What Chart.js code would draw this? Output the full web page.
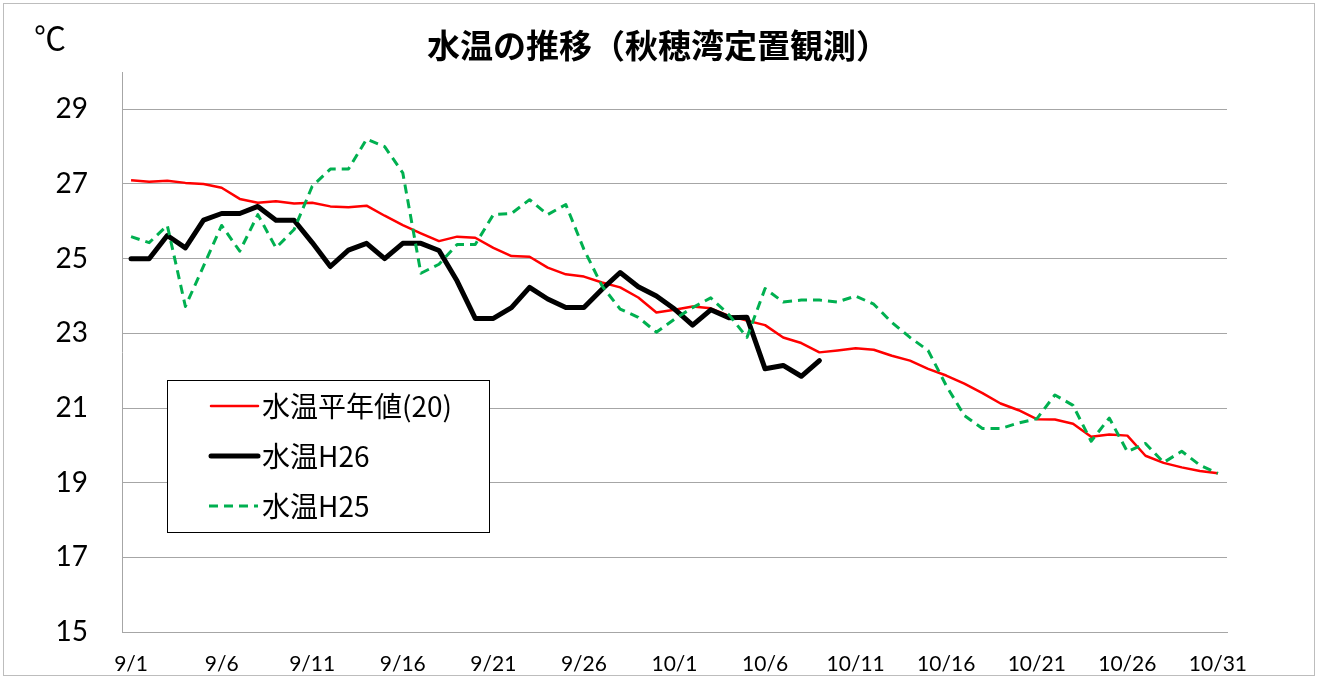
<!DOCTYPE html>
<html lang="ja">
<head>
<meta charset="utf-8">
<script src="https://cdn.jsdelivr.net/npm/chart.js@4.4.1/dist/chart.umd.min.js"></script>
<style>
html, body { margin: 0; padding: 0; background: #fff; }
#marco { position: relative; width: 1318px; height: 677px; }
</style>
</head>
<body>
<div id="marco"><canvas id="graficaSuion" width="1318" height="677"></canvas></div>
<script>
// 日付 (9/1 - 10/31)
const hizuke = [
  '9/1','9/2','9/3','9/4','9/5','9/6','9/7','9/8','9/9','9/10',
  '9/11','9/12','9/13','9/14','9/15','9/16','9/17','9/18','9/19','9/20',
  '9/21','9/22','9/23','9/24','9/25','9/26','9/27','9/28','9/29','9/30',
  '10/1','10/2','10/3','10/4','10/5','10/6','10/7','10/8','10/9','10/10',
  '10/11','10/12','10/13','10/14','10/15','10/16','10/17','10/18','10/19','10/20',
  '10/21','10/22','10/23','10/24','10/25','10/26','10/27','10/28','10/29','10/30',
  '10/31'
];

// 水温平年値(20)
const suionHeinen = [
  27.10, 27.06, 27.09, 27.03, 27.00, 26.90, 26.60, 26.50, 26.54, 26.48,
  26.50, 26.40, 26.38, 26.42, 26.15, 25.90, 25.68, 25.47, 25.59, 25.56,
  25.29, 25.07, 25.05, 24.76, 24.58, 24.52, 24.36, 24.23, 23.96, 23.56,
  23.63, 23.72, 23.67, 23.47, 23.34, 23.22, 22.89, 22.74, 22.49, 22.54,
  22.60, 22.56, 22.40, 22.27, 22.05, 21.87, 21.65, 21.40, 21.12, 20.94,
  20.70, 20.69, 20.58, 20.23, 20.29, 20.26, 19.72, 19.53, 19.41, 19.31,
  19.25
];

// 水温H26 (10/9まで)
const suionH26 = [
  25.00, 25.00, 25.62, 25.29, 26.03, 26.21, 26.21, 26.40, 26.03, 26.03,
  25.43, 24.79, 25.23, 25.41, 25.00, 25.41, 25.41, 25.22, 24.40, 23.40,
  23.40, 23.69, 24.23, 23.92, 23.69, 23.69, 24.18, 24.63, 24.25, 24.00,
  23.65, 23.22, 23.63, 23.42, 23.43, 22.05, 22.14, 21.85, 22.27, null,
  null, null, null, null, null, null, null, null, null, null,
  null, null, null, null, null, null, null, null, null, null,
  null
];

// 水温H25
const suionH25 = [
  25.59, 25.43, 25.89, 23.72, 24.80, 25.89, 25.20, 26.18, 25.29, 25.78,
  26.94, 27.40, 27.40, 28.20, 28.00, 27.30, 24.61, 24.85, 25.38, 25.38,
  26.18, 26.21, 26.58, 26.18, 26.45, 25.25, 24.27, 23.65, 23.43, 23.03,
  23.38, 23.69, 23.95, 23.50, 22.89, 24.20, 23.84, 23.89, 23.89, 23.84,
  24.00, 23.78, 23.29, 22.89, 22.54, 21.60, 20.80, 20.45, 20.45, 20.60,
  20.71, 21.35, 21.07, 20.11, 20.73, 19.83, 20.05, 19.54, 19.84, 19.47,
  19.25
];

const ticksY = [15, 17, 19, 21, 23, 25, 27, 29];
const titulo = '水温の推移（秋穂湾定置観測）';

const fuenteNum = "Lato, 'Noto Sans CJK JP', sans-serif";
const fuenteJp = "'Noto Sans CJK JP', sans-serif";

// 外枠・タイトル・℃
const marcoPlugin = {
  id: 'marco',
  beforeDraw(chart) {
    const ctx = chart.ctx;
    ctx.save();
    ctx.fillStyle = '#fff';
    ctx.fillRect(0, 0, chart.width, chart.height);
    ctx.strokeStyle = '#bdbdbd';
    ctx.lineWidth = 1;
    ctx.strokeRect(3.5, 3.5, 1311, 672);
    ctx.restore();
  },
  afterDraw(chart) {
    const ctx = chart.ctx;
    ctx.save();
    ctx.fillStyle = '#000';
    ctx.textAlign = 'center';
    ctx.textBaseline = 'middle';
    ctx.font = '32px ' + fuenteJp;
    ctx.fillText('℃', 50, 38);
    ctx.font = 'bold 33px ' + fuenteJp;
    ctx.fillText(titulo, 658, 45);
    ctx.restore();
  }
};

// 凡例 (グラフ内の枠)
const leyendaPlugin = {
  id: 'leyenda',
  afterDraw(chart) {
    const ctx = chart.ctx;
    const filas = [406, 456, 506];
    ctx.save();
    ctx.fillStyle = '#fff';
    ctx.fillRect(167, 380, 322, 152);
    ctx.strokeStyle = '#000';
    ctx.lineWidth = 1;
    ctx.strokeRect(167.5, 380.5, 322, 152);
    chart.data.datasets.forEach((ds, i) => {
      const y = filas[i];
      ctx.beginPath();
      ctx.strokeStyle = ds.borderColor;
      ctx.lineWidth = ds.borderWidth;
      ctx.lineCap = ds.borderDash ? 'butt' : 'round';
      ctx.setLineDash(ds.borderDash || []);
      ctx.moveTo(ds.borderDash ? 209 : 211, y);
      ctx.lineTo(258, y);
      ctx.stroke();
      ctx.setLineDash([]);
      ctx.fillStyle = '#000';
      ctx.font = '28px ' + fuenteJp;
      ctx.textAlign = 'left';
      ctx.textBaseline = 'middle';
      ctx.fillText(ds.label, 262, y);
    });
    ctx.restore();
  }
};

const grafica = new Chart(document.getElementById('graficaSuion'), {
  type: 'line',
  data: {
    labels: hizuke,
    datasets: [
      {
        label: '水温平年値(20)',
        data: suionHeinen,
        borderColor: '#ff0000',
        borderWidth: 2.5,
        pointRadius: 0,
        borderJoinStyle: 'round',
        order: 2
      },
      {
        label: '水温H26',
        data: suionH26,
        borderColor: '#000000',
        borderWidth: 5,
        pointRadius: 0,
        borderJoinStyle: 'round',
        borderCapStyle: 'round',
        order: 1
      },
      {
        label: '水温H25',
        data: suionH25,
        borderColor: '#00b050',
        borderWidth: 3,
        borderDash: [9, 6],
        pointRadius: 0,
        borderJoinStyle: 'round',
        order: 0
      }
    ]
  },
  options: {
    responsive: false,
    animation: false,
    layout: { padding: { left: 0, right: 91, top: 72, bottom: 0 } },
    plugins: {
      legend: { display: false },
      tooltip: { enabled: false },
      title: { display: false }
    },
    scales: {
      x: {
        offset: true,
        grid: { display: false, drawTicks: false },
        border: { display: true, color: '#a6a6a6', width: 1 },
        ticks: {
          autoSkip: false,
          maxRotation: 0,
          color: '#000',
          padding: 20,
          font: { family: fuenteNum, size: 21 },
          callback: function (valor, indice) {
            return indice % 5 === 0 ? hizuke[indice] : '';
          }
        },
        afterFit(scale) { scale.height = 45; }
      },
      y: {
        min: 15,
        max: 30,
        grid: { color: '#a6a6a6', lineWidth: 1, drawTicks: false },
        border: { display: true, color: '#a6a6a6', width: 1 },
        ticks: {
          color: '#000',
          padding: 34,
          font: { family: fuenteNum, size: 28 }
        },
        afterBuildTicks(scale) {
          scale.ticks = ticksY.map(v => ({ value: v }));
        },
        afterFit(scale) {
          scale.width = 122;
          scale.paddingTop = 0;
          scale.paddingBottom = 0;
        }
      }
    }
  },
  plugins: [marcoPlugin, leyendaPlugin]
});
</script>
</body>
</html>
